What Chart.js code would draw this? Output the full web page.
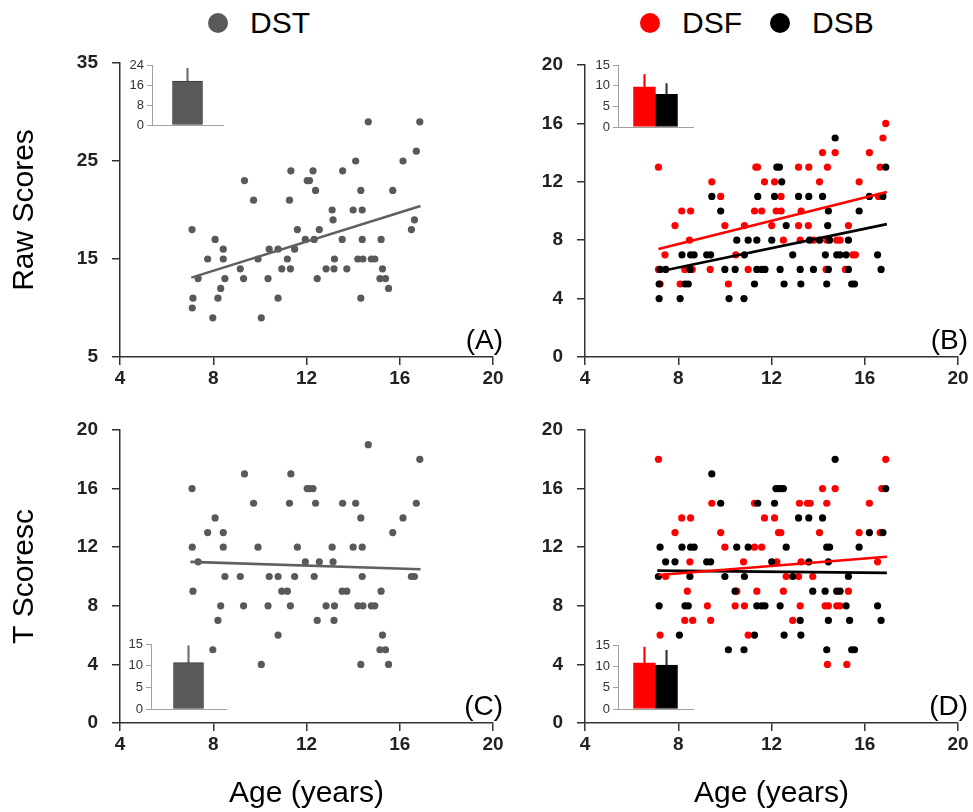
<!DOCTYPE html>
<html>
<head>
<meta charset="utf-8">
<title>Digit span scores by age</title>
<script src="https://cdn.jsdelivr.net/npm/chart.js@4.4.1/dist/chart.umd.min.js"></script>
<style>
  html, body { margin: 0; padding: 0; background: #fff; }
  body { width: 973px; height: 812px; position: relative; overflow: hidden; }
  canvas { position: absolute; }
  #panelA { left: 0; top: 0; }
  #panelB { left: 500px; top: 0; }
  #panelC { left: 0; top: 400px; }
  #panelD { left: 500px; top: 400px; }
  #insetA { left: 110px; top: 50px; }
  #insetB { left: 570px; top: 50px; }
  #insetC { left: 110px; top: 630px; }
  #insetD { left: 570px; top: 630px; }
  .legend {
    position: absolute; top: 5px; height: 36px; display: flex; align-items: center;
    font: 30px "Liberation Sans", Arial, sans-serif; color: #000; line-height: 36px; white-space: nowrap;
  }
  #legendA { left: 208px; }
  #legendB { left: 640px; }
  .legend .item { display: flex; align-items: center; margin-right: 28px; }
  .legend .dot { width: 20px; height: 20px; border-radius: 50%; margin-right: 22px; }
</style>
</head>
<body>
<div class="legend" id="legendA"></div>
<div class="legend" id="legendB"></div>
<canvas id="panelA" width="513" height="398"></canvas>
<canvas id="panelB" width="473" height="398"></canvas>
<canvas id="panelC" width="513" height="412"></canvas>
<canvas id="panelD" width="473" height="412"></canvas>
<canvas id="insetA" width="125" height="90"></canvas>
<canvas id="insetB" width="135" height="90"></canvas>
<canvas id="insetC" width="125" height="95"></canvas>
<canvas id="insetD" width="135" height="95"></canvas>

<script>
// --- data ---

// DST (total digit span): same children in panels A and C
const dstAges = [7.09, 7.13, 7.10, 7.35, 7.76, 7.98, 8.08, 8.20, 8.32, 8.43, 8.43, 8.50, 9.16, 9.30, 9.34,
    9.73, 9.92, 10.06, 10.35, 10.40, 10.78, 10.78, 10.94, 11.18, 11.31, 11.27, 11.33, 11.49, 11.61, 11.95,
    12.03, 12.13, 12.28, 12.33, 12.39, 12.46, 12.55, 12.84, 13.10, 13.14, 13.20, 13.18, 13.53, 13.55, 13.73,
    14.00, 14.11, 14.20, 14.33, 14.33, 14.39, 14.39, 14.42, 14.65, 14.78, 14.93, 15.20, 15.26, 15.15, 15.39,
    15.52, 15.70, 16.14, 16.50, 16.63, 16.71, 16.86];
const dstRaw = [18, 11, 10, 13, 15, 9, 17, 11, 12, 16, 15, 13, 14, 13, 23, 21, 15, 9, 13, 16, 11, 16, 14, 15, 14,
    21, 24, 16, 18, 17, 23, 23, 24, 17, 22, 13, 18, 14, 20, 19, 15, 14, 17, 24, 14, 20, 25, 15, 22, 11, 20, 17,
    15, 29, 15, 15, 17, 14, 13, 13, 12, 22, 25, 18, 19, 26, 29];
const dstT = [16, 9, 12, 11, 13, 5, 14, 7, 8, 13, 12, 10, 10, 8, 17, 15, 12, 4, 8, 10, 6, 10, 9, 9, 8,
    15, 17, 10, 12, 11, 16, 16, 16, 10, 15, 7, 11, 8, 12, 11, 8, 7, 9, 15, 9, 12, 15, 8, 14, 4, 12, 10,
    8, 19, 8, 8, 9, 6, 5, 5, 4, 13, 14, 10, 10, 15, 18];

// DSF / DSB raw scores (panel B)
const dsfRawAges = [7.15, 7.43, 7.15, 7.22, 7.86, 8.15, 8.53, 8.48, 8.28, 8.08, 8.60, 9.44, 9.82, 9.37, 10.00,
    10.15, 10.47, 10.84, 11.00, 11.27, 11.33, 11.40, 11.58, 11.70, 12.01, 12.13, 12.20, 12.41, 12.41, 12.51,
    13.16, 13.16, 13.27, 13.23, 13.60, 13.58, 13.80, 14.06, 14.19, 14.40, 14.37, 14.34, 14.73, 14.80, 14.94,
    15.30, 15.17, 15.49, 15.60, 15.76, 16.20, 16.59, 16.66, 16.78, 16.90];
const dsfRaw = [13, 7, 6, 5, 9, 10, 10, 8, 6, 5, 6, 12, 11, 6, 9, 5, 7, 9, 6, 10, 13, 13, 10, 12, 9,
    12, 10, 11, 10, 8, 13, 9, 10, 8, 13, 9, 8, 12, 14, 13, 8, 6, 14, 8, 8, 9, 6, 7, 7, 12, 14, 11, 13, 15, 16];
const dsbRawAges = [7.18, 7.18, 7.22, 7.46, 8.08, 8.16, 8.29, 8.43, 8.50, 8.53, 8.68, 9.22, 9.39, 9.44, 9.82,
    10.00, 10.18, 10.44, 10.51, 10.82, 10.84, 11.00, 11.27, 11.37, 11.41, 11.37, 11.58, 11.72, 12.01, 12.13,
    12.23, 12.34, 12.37, 12.44, 12.54, 12.63, 12.91, 13.16, 13.23, 13.26, 13.60, 13.63, 13.80, 14.06, 14.19,
    14.31, 14.37, 14.41, 14.44, 14.44, 14.49, 14.73, 14.80, 14.94, 15.20, 15.30, 15.30, 15.44, 15.56, 15.76,
    16.20, 16.55, 16.70, 16.78, 16.90];
const dsbRaw = [4, 5, 6, 6, 4, 7, 5, 5, 6, 7, 7, 7, 7, 11, 10, 6, 4, 6, 8, 4, 7, 8, 5, 6, 11, 8, 6, 6, 8, 11,
    13, 13, 6, 12, 5, 9, 7, 11, 6, 5, 11, 8, 6, 8, 11, 7, 5, 9, 10, 6, 8, 15, 7, 7, 7, 8, 6, 5, 5, 10,
    11, 7, 6, 11, 13];

// DSF / DSB T scores (panel D)
const dsfTAges = [7.15, 7.46, 7.22, 7.86, 8.15, 8.53, 8.50, 8.39, 8.28, 8.62, 9.25, 9.39, 9.44, 9.82, 10.00,
    10.44, 10.51, 10.80, 10.84, 11.00, 11.27, 11.37, 11.27, 11.58, 11.70, 12.13, 12.30, 12.40, 12.23, 12.51,
    12.63, 12.91, 13.16, 13.20, 13.23, 13.27, 13.54, 13.66, 13.77, 14.06, 14.19, 14.37, 14.30, 14.44, 14.40,
    14.73, 14.80, 14.94, 15.30, 15.23, 15.76, 16.20, 16.55, 16.66, 16.73, 16.90];
const dsfT = [18, 10, 6, 13, 14, 14, 11, 9, 7, 7, 8, 7, 15, 13, 12, 8, 9, 11, 8, 6, 15, 9, 12, 12, 14,
    14, 13, 13, 11, 9, 10, 7, 10, 15, 8, 11, 15, 15, 10, 13, 16, 15, 8, 8, 4, 16, 8, 8, 9, 4, 13, 15, 11, 13, 16, 18];
const dsbTAges = [7.22, 7.15, 7.18, 7.46, 7.86, 8.05, 8.16, 8.53, 8.68, 8.50, 8.29, 8.43, 9.22, 9.39, 9.44,
    9.82, 10.00, 10.15, 10.44, 10.51, 10.82, 10.84, 11.00, 11.27, 11.37, 11.41, 11.58, 11.72, 12.01, 12.13,
    12.19, 12.30, 12.40, 12.51, 12.37, 12.54, 12.63, 12.91, 13.16, 13.23, 13.26, 13.60, 13.60, 13.77, 14.19,
    14.30, 14.37, 14.49, 14.37, 14.44, 14.44, 14.73, 14.80, 14.94, 15.20, 15.30, 15.35, 15.44, 15.56, 15.76,
    16.20, 16.55, 16.70, 16.78, 16.90];
const dsbT = [12, 10, 8, 11, 11, 6, 12, 12, 12, 10, 8, 8, 11, 11, 17, 15, 10, 5, 9, 12, 5, 10, 12, 6, 8,
    15, 8, 8, 11, 15, 16, 16, 16, 16, 8, 6, 12, 10, 14, 7, 6, 14, 11, 9, 14, 9, 12, 12, 5, 7, 11, 18, 9, 9, 8,
    10, 7, 5, 5, 12, 13, 8, 7, 13, 16];

// regression lines, end points as drawn [age, score]
const fitDstRaw = [[7.06, 13.1], [16.89, 20.4]];
const fitDsfRaw = [[7.15, 7.4], [16.95, 11.3]];
const fitDsbRaw = [[7.6, 6.0], [16.95, 9.1]];
const fitDstT = [[7.02, 11.0], [16.89, 10.5]];
const fitDsfT = [[7.15, 10.1], [16.95, 11.35]];
const fitDsbT = [[7.1, 10.4], [16.95, 10.25]];

// inset bar charts: mean and SD
const insetLabelsDst = ['DST'];
const insetLabelsDsfDsb = ['DSF', 'DSB'];
const insetMeanA = [17.6];
const insetSdA = [5.1];
const insetMeanB = [9.7, 7.9];
const insetSdB = [3.0, 2.6];
const insetMeanC = [10.7];
const insetSdC = [3.9];
const insetMeanD = [10.8, 10.3];
const insetSdD = [3.7, 3.45];

const GRAY = '#595959';
const RED = '#ff0000';
const BLACK = '#000000';
const FAMILY = '"Liberation Sans", Arial, sans-serif';

Chart.defaults.font.family = FAMILY;
Chart.defaults.color = '#222';

function toPoints(xs, ys) {
    return xs.map((x, i) => ({ x: x, y: ys[i] }));
}

// legendColor is the dataset-level colour (used by the legend), points use color
function scatterSet(label, xs, ys, color, order, legendColor) {
    return {
        type: 'scatter',
        label: label,
        data: toPoints(xs, ys),
        backgroundColor: legendColor || color,
        pointBackgroundColor: color,
        pointBorderWidth: 0,
        pointRadius: 3.6,
        pointStyle: 'circle',
        order: order
    };
}

function fitSet(ends, color, order) {
    return {
        type: 'line',
        label: '',
        isFit: true,
        data: ends.map(p => ({ x: p[0], y: p[1] })),
        borderColor: color,
        borderWidth: 2.6,
        pointRadius: 0,
        fill: false,
        order: order
    };
}

// draws "(A)" etc. in the lower right corner of the plot
const panelLabel = {
    id: 'panelLabel',
    afterDraw(chart, args, opts) {
        const { ctx, chartArea } = chart;
        ctx.save();
        ctx.font = '28px ' + FAMILY;
        ctx.fillStyle = '#000';
        ctx.textAlign = 'right';
        ctx.textBaseline = 'alphabetic';
        ctx.fillText(opts.text, chartArea.right + 10, chartArea.bottom - 8);
        ctx.restore();
    }
};

// legend as html above the top panels, built from the chart's own legend items
const htmlLegend = {
    id: 'htmlLegend',
    afterUpdate(chart, args, opts) {
        if (!opts.containerID) return;
        const box = document.getElementById(opts.containerID);
        box.innerHTML = '';
        const items = chart.options.plugins.legend.labels.generateLabels(chart)
            .filter(item => !chart.data.datasets[item.datasetIndex].isFit)
            .sort((a, b) => a.datasetIndex - b.datasetIndex);
        items.forEach(item => {
            const el = document.createElement('span');
            el.className = 'item';
            const dot = document.createElement('span');
            dot.className = 'dot';
            dot.style.background = item.fillStyle;
            const text = document.createElement('span');
            text.textContent = item.text;
            el.appendChild(dot);
            el.appendChild(text);
            box.appendChild(el);
        });
    }
};

const tickFont = { size: 19, weight: 'bold' };

function makePanel(id, opts) {
    return new Chart(document.getElementById(id), {
        type: 'scatter',
        data: { datasets: opts.datasets },
        options: {
            responsive: false,
            animation: false,
            events: [],
            layout: { padding: opts.padding },
            scales: {
                x: {
                    type: 'linear',
                    min: 4,
                    max: 20,
                    ticks: { stepSize: 4, font: tickFont, color: '#222', padding: 2 },
                    grid: { drawOnChartArea: false, tickLength: 8, color: '#333', lineWidth: 1.5 },
                    border: { color: '#333', width: 1.5 },
                    title: opts.xTitle ? {
                        display: true,
                        text: opts.xTitle,
                        color: '#000',
                        font: { size: 30 },
                        padding: { top: 0, bottom: 0 }
                    } : { display: false },
                    afterFit: s => { s.height = opts.xHeight; }
                },
                y: {
                    type: 'linear',
                    min: opts.yMin,
                    max: opts.yMax,
                    ticks: { stepSize: opts.yStep, font: tickFont, color: '#222', padding: 14 },
                    grid: { drawOnChartArea: false, tickLength: 8, color: '#333', lineWidth: 1.5 },
                    border: { color: '#333', width: 1.5 },
                    title: opts.yTitle ? {
                        display: true,
                        text: opts.yTitle,
                        color: '#000',
                        font: { size: 30 },
                        padding: { top: 7, bottom: 0 }
                    } : { display: false },
                    afterFit: s => { s.width = opts.yWidth; }
                }
            },
            plugins: {
                legend: { display: false },
                tooltip: { enabled: false },
                panelLabel: { text: opts.tag },
                htmlLegend: { containerID: opts.legendID }
            }
        },
        plugins: [panelLabel, htmlLegend]
    });
}

function makeInset(id, labels, means, sds, colors, errColors, opts) {
    // bars sit at positions 1, 2, ... on a linear axis so the error lines can share the centre
    const barData = labels.map((l, i) => ({ x: i + 1, y: means[i] }));
    const errData = labels.map((l, i) => ({ x: i + 1, y: [means[i], means[i] + sds[i]] }));

    return new Chart(document.getElementById(id), {
        type: 'bar',
        data: {
            datasets: [
                {
                    label: 'mean',
                    data: barData,
                    backgroundColor: colors,
                    borderColor: colors.map(c => c === GRAY ? '#3a3a3a' : c),
                    borderWidth: 1,
                    borderSkipped: false,
                    grouped: false,
                    barPercentage: 1,
                    categoryPercentage: 1,
                    maxBarThickness: opts.barWidth
                },
                {
                    label: 'sd',
                    data: errData,
                    backgroundColor: errColors,
                    borderWidth: 0,
                    grouped: false,
                    barPercentage: 1,
                    categoryPercentage: 1,
                    maxBarThickness: 1.5
                }
            ]
        },
        options: {
            responsive: false,
            animation: false,
            events: [],
            layout: { padding: opts.padding },
            scales: {
                x: {
                    type: 'linear',
                    offset: false,
                    min: opts.xMin,
                    max: opts.xMax,
                    ticks: { display: false, count: 2 },
                    grid: { display: false },
                    border: { color: '#a0a0a0', width: 1 },
                    afterFit: s => { s.height = opts.xHeight; }
                },
                y: {
                    min: 0,
                    max: opts.yMax,
                    ticks: { stepSize: opts.yStep, font: { size: 13 }, color: '#333', padding: 3 },
                    grid: { drawOnChartArea: false, tickLength: 5, color: '#a0a0a0' },
                    border: { color: '#a0a0a0', width: 1 },
                    afterFit: s => { s.width = opts.yWidth; }
                }
            },
            plugins: { legend: { display: false }, tooltip: { enabled: false } }
        }
    });
}

// --- main panels ---
makePanel('panelA', {
    tag: '(A)', legendID: 'legendA',
    padding: { left: 0, right: 20, top: 63, bottom: 0 },
    yWidth: 120, xHeight: 41,
    yMin: 5, yMax: 35, yStep: 10, yTitle: 'Raw Scores',
    datasets: [
        scatterSet('DST', dstAges, dstRaw, GRAY, 1, '#7f7f7f'),
        fitSet(fitDstRaw, '#606060', 0)
    ]
});

makePanel('panelB', {
    tag: '(B)', legendID: 'legendB',
    padding: { left: 35, right: 15, top: 65, bottom: 0 },
    yWidth: 50, xHeight: 41,
    yMin: 0, yMax: 20, yStep: 4,
    datasets: [
        scatterSet('DSF', dsfRawAges, dsfRaw, RED, 3),
        scatterSet('DSB', dsbRawAges, dsbRaw, BLACK, 2),
        fitSet(fitDsfRaw, RED, 1),
        fitSet(fitDsbRaw, BLACK, 0)
    ]
});

makePanel('panelC', {
    tag: '(C)',
    padding: { left: 0, right: 20, top: 30, bottom: 0 },
    yWidth: 120, xHeight: 89,
    yMin: 0, yMax: 20, yStep: 4, yTitle: 'T Scoresc', xTitle: 'Age (years)',
    datasets: [
        scatterSet('DST', dstAges, dstT, GRAY, 1),
        fitSet(fitDstT, '#606060', 0)
    ]
});

makePanel('panelD', {
    tag: '(D)',
    padding: { left: 35, right: 15, top: 30, bottom: 0 },
    yWidth: 50, xHeight: 89,
    yMin: 0, yMax: 20, yStep: 4, xTitle: 'Age (years)',
    datasets: [
        scatterSet('DSF', dsfTAges, dsfT, RED, 3),
        scatterSet('DSB', dsbTAges, dsbT, BLACK, 2),
        fitSet(fitDsfT, RED, 0),
        fitSet(fitDsbT, BLACK, 1)
    ]
});

// --- insets ---
makeInset('insetA', insetLabelsDst, insetMeanA, insetSdA, [GRAY], ['#707070'], {
    padding: { left: 0, right: 12, top: 15, bottom: 0 },
    yWidth: 42, xHeight: 15, yMax: 24, yStep: 8, xMin: 0, xMax: 2, barWidth: 30
});
makeInset('insetB', insetLabelsDsfDsb, insetMeanB, insetSdB, [RED, BLACK], [RED, '#333'], {
    padding: { left: 0, right: 12, top: 15, bottom: 0 },
    yWidth: 48, xHeight: 13, yMax: 15, yStep: 5, xMin: -0.2, xMax: 3.2, barWidth: 22
});
makeInset('insetC', insetLabelsDst, insetMeanC, insetSdC, [GRAY], ['#707070'], {
    padding: { left: 0, right: 9, top: 14, bottom: 0 },
    yWidth: 41, xHeight: 16, yMax: 15, yStep: 5, xMin: 0, xMax: 2, barWidth: 30
});
makeInset('insetD', insetLabelsDsfDsb, insetMeanD, insetSdD, [RED, BLACK], [RED, '#333'], {
    padding: { left: 0, right: 12, top: 15, bottom: 0 },
    yWidth: 48, xHeight: 16, yMax: 15, yStep: 5, xMin: -0.2, xMax: 3.2, barWidth: 22
});
</script>
</body>
</html>
